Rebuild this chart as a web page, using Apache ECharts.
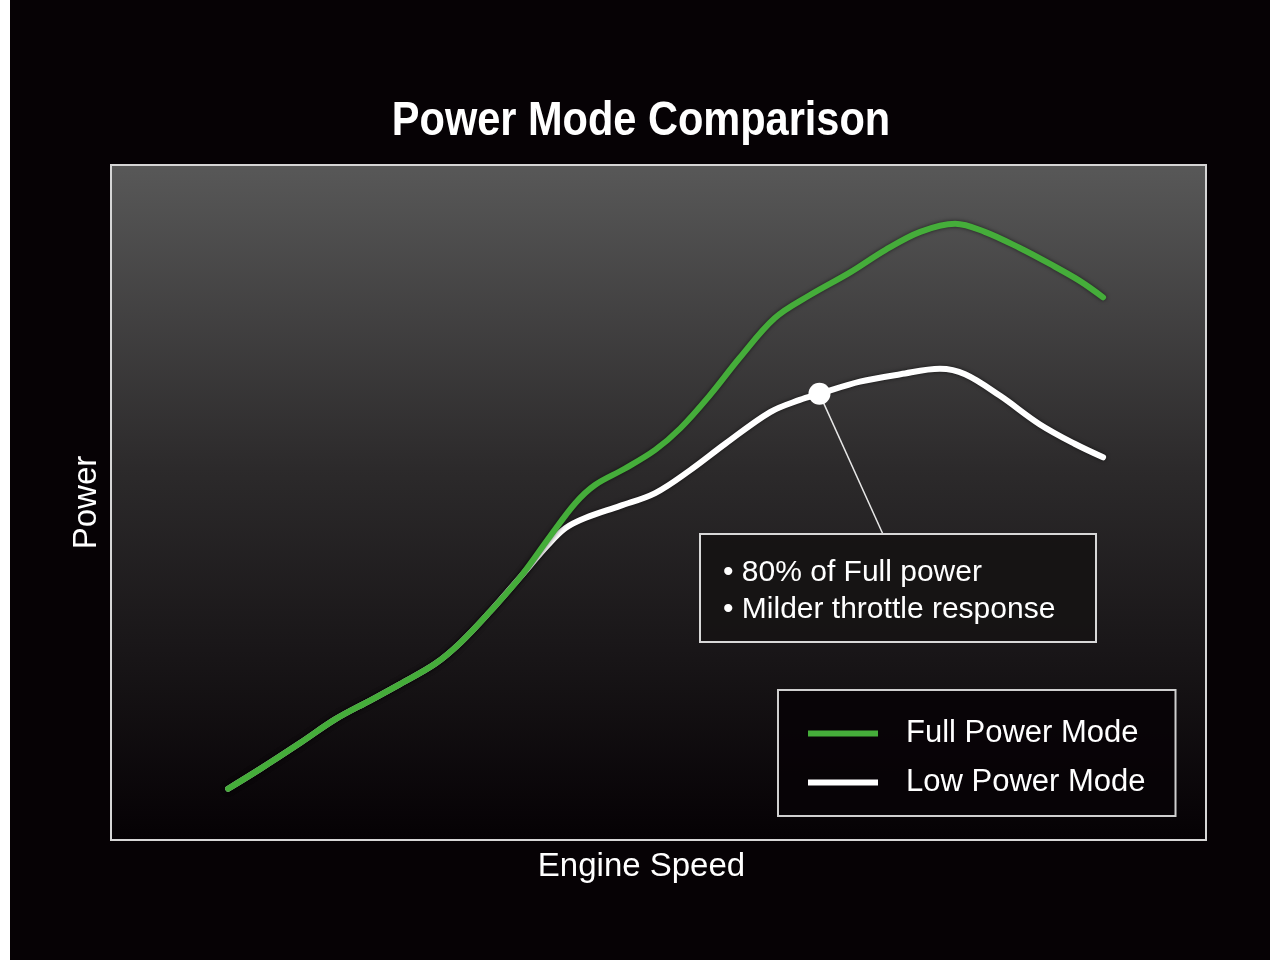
<!DOCTYPE html>
<html>
<head>
<meta charset="utf-8">
<script src="https://cdn.jsdelivr.net/npm/echarts@6/dist/echarts.min.js"></script>
<style>
html,body{margin:0;padding:0;background:#fff;}
#chart{width:1280px;height:960px;}
</style>
</head>
<body>
<div id="chart"></div>
<script>
// Engine speed (% of range) and power (% of range)
const fullSpeed = [10.7,13.6,17.3,20.5,23.7,26.4,29.6,31.9,34.6,37.4,40.1,42.4,44.2,46.9,49.7,52.0,54.7,57.4,60.6,63.8,67.5,70.7,73.9,77.1,79.8,83.0,85.8,88.5,90.6];
const fullPower = [7.6,10.5,14.4,17.9,20.7,23.1,26.1,29.2,33.8,39.0,45.0,49.9,52.6,55.0,57.8,61.0,65.9,71.4,77.3,80.7,84.1,87.4,90.1,91.3,90.1,87.7,85.3,82.8,80.4];
const lowSpeed = [10.7,13.6,17.3,20.5,23.7,26.4,29.6,31.9,34.6,37.4,39.9,41.5,43.3,46.5,49.7,52.9,56.1,60.2,62.9,64.7,68.4,72.1,75.7,78.0,81.2,84.8,88.0,90.6];
const lowPower = [7.6,10.5,14.4,17.9,20.7,23.1,26.1,29.2,33.8,39.0,43.7,46.2,47.7,49.5,51.4,54.8,58.7,63.4,65.2,66.1,67.9,69.0,69.8,69.0,65.8,61.6,58.7,56.7];
const seriesNames = ['Full Power Mode','Low Power Mode'];
const calloutPoint = [64.7, 66.1];
const calloutAnchor = [70.5, 45.3];
const calloutLines = ['\u2022 80% of Full power', '\u2022 Milder throttle response'];
const titleText = 'Power Mode Comparison';
const xName = 'Engine Speed';
const yName = 'Power';

const fullData = fullSpeed.map((x,i)=>[x, fullPower[i]]);
const lowData = lowSpeed.map((x,i)=>[x, lowPower[i]]);
const FONT = "'Liberation Sans',Arial,sans-serif";

const chart = echarts.init(document.getElementById('chart'));
chart.setOption({
  backgroundColor: '#060205',
  animation: false,
  grid: {
    left: 111, top: 165, width: 1095, height: 675, show: true,
    borderColor: '#d6d6d6', borderWidth: 2,
    backgroundColor: new echarts.graphic.LinearGradient(0,0,0,1,[
      {offset:0,color:'#585858'},{offset:0.45,color:'#2c2a2b'},{offset:1,color:'#050104'}])
  },
  xAxis: {
    type:'value', min:0, max:100, name: xName, nameLocation:'middle', nameGap: 10,
    nameTextStyle:{color:'#fff', fontSize:33, fontFamily:FONT, verticalAlign:'top', padding:[0,34,0,0]},
    axisLine:{show:false}, axisTick:{show:false}, axisLabel:{show:false}, splitLine:{show:false}
  },
  yAxis: {
    type:'value', min:0, max:100, name: yName, nameLocation:'middle', nameGap: 8, nameRotate: 90,
    nameTextStyle:{color:'#fff', fontSize:33, fontFamily:FONT},
    axisLine:{show:false}, axisTick:{show:false}, axisLabel:{show:false}, splitLine:{show:false}
  },
  legend: {
    orient:'vertical', left: 778, top: 690,
    padding:[28, 30, 18, 30], itemGap: 18,
    itemWidth: 70, itemHeight: 6,
    borderColor:'#cfcfcf', borderWidth: 2, backgroundColor:'rgba(8,3,6,0.92)',
    textStyle:{color:'#fff', fontSize:31, lineHeight:30, padding:[0,0,0,23], fontFamily:FONT},
    data: [{name:seriesNames[0], icon:'rect'},{name:seriesNames[1], icon:'rect'}]
  },
  series: [
    {
      name: seriesNames[1], type:'line', data: lowData, smooth: 0.35, showSymbol:false, z: 2,
      color:'#ffffff',
      lineStyle:{color:'#ffffff', width:6, cap:'round', join:'round', shadowColor:'rgba(0,0,0,0.6)', shadowBlur:4},
      markPoint:{
        silent:true, symbol:'circle', symbolSize:22,
        itemStyle:{color:'#ffffff'}, label:{show:false},
        data:[{coord: calloutPoint}]
      },
      markLine:{
        silent:true, symbol:['none','none'], label:{show:false},
        lineStyle:{color:'#e8e8e8', width:1.5, type:'solid'},
        data:[[{coord: calloutPoint},{coord: calloutAnchor}]]
      }
    },
    {
      name: seriesNames[0], type:'line', data: fullData, smooth: 0.35, showSymbol:false, z: 3,
      color:'#45ad3a',
      lineStyle:{color:'#45ad3a', width:6, cap:'round', join:'round', shadowColor:'rgba(0,0,0,0.6)', shadowBlur:4}
    }
  ],
  graphic: [
    {type:'rect', shape:{x:0,y:0,width:10,height:960}, style:{fill:'#ffffff'}, silent:true},
    {type:'rect', shape:{x:1270,y:0,width:10,height:960}, style:{fill:'#ffffff'}, silent:true},
    {type:'text', x:641, y:122, scaleX:0.865, scaleY:1, z:100, silent:true,
      style:{text: titleText, fill:'#fff', font:"bold 48px 'Liberation Sans',Arial,sans-serif", textAlign:'center', textVerticalAlign:'middle'}},
    {type:'rect', z: 100, shape:{x:700,y:534,width:396,height:108},
      style:{fill:'rgba(22,19,20,0.92)', stroke:'#d8d8d8', lineWidth:2}, silent:true},
    {type:'text', z: 101, left: 723, top: 558,
      style:{text: calloutLines[0], fill:'#fff', fontSize:30, fontFamily:FONT}},
    {type:'text', z: 101, left: 723, top: 595,
      style:{text: calloutLines[1], fill:'#fff', fontSize:30, fontFamily:FONT}}
  ]
});
</script>
</body>
</html>
